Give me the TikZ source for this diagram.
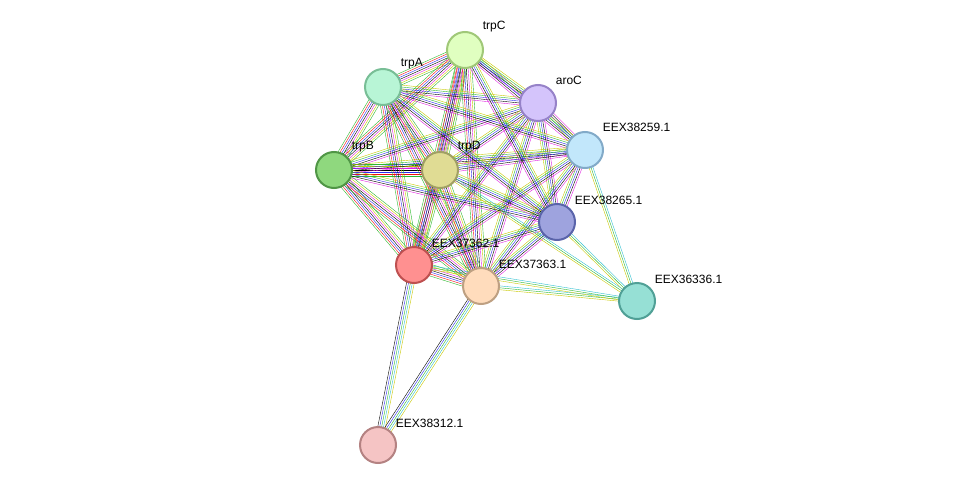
\documentclass[tikz,border=0pt]{standalone}
\usepackage{fontspec}
\setmainfont{Liberation Sans}
\usetikzlibrary{calc,backgrounds}
\definecolor{cgreen}{HTML}{2EB82E}
\definecolor{cblue}{HTML}{2B2BF0}
\definecolor{cred}{HTML}{F01010}
\definecolor{cmag}{HTML}{E020E0}
\definecolor{cyel}{HTML}{C8C800}
\definecolor{ccyan}{HTML}{30C0D0}
\newcommand\link[4][5]{%
  \foreach \c [count=\i] in {#4}{%
    \pgfmathsetmacro\o{(\i-(#1+1)/2)*1.9}
    \draw[\c] ($(#2)!\o pt!90:(#3)$) -- ($(#3)!\o pt!-90:(#2)$);
  }}
\begin{document}
\begin{tikzpicture}
	[x=1pt, y=-1pt, line width=0.9pt,
	prot/.style={circle, draw, line width=2pt, minimum size=36pt, inner sep=0pt},
	lbl/.style={anchor=south west, inner sep=1pt, xshift=3pt, yshift=3pt, font=\fontsize{12}{12}\selectfont}]
	
	\useasboundingbox (0,0) rectangle (975,490);
	
	\node[prot, fill={rgb,255:red,224;green,255;blue,192}, draw={rgb,255:red,160;green,200;blue,120}, label={[lbl]45:trpC}] (trpC) at (465,50) {};
	\node[prot, fill={rgb,255:red,184;green,245;blue,214}, draw={rgb,255:red,120;green,190;blue,150}, label={[lbl]45:trpA}] (trpA) at (383,87) {};
	\node[prot, fill={rgb,255:red,212;green,196;blue,251}, draw={rgb,255:red,150;green,130;blue,200}, label={[lbl]45:aroC}] (aroC) at (538,103) {};
	\node[prot, fill={rgb,255:red,194;green,231;blue,251}, draw={rgb,255:red,130;green,170;blue,200}, label={[lbl]45:EEX38259.1}] (e38259) at (585,150) {};
	\node[prot, fill={rgb,255:red,143;green,216;blue,126}, draw={rgb,255:red,80;green,150;blue,70}, label={[lbl]45:trpB}] (trpB) at (334,170) {};
	\node[prot, fill={rgb,255:red,224;green,220;blue,148}, draw={rgb,255:red,160;green,160;blue,100}, label={[lbl]45:trpD}] (trpD) at (440,170) {};
	\node[prot, fill={rgb,255:red,158;green,163;blue,222}, draw={rgb,255:red,90;green,100;blue,170}, label={[lbl]45:EEX38265.1}] (e38265) at (557,222) {};
	\node[prot, fill={rgb,255:red,255;green,144;blue,144}, draw={rgb,255:red,190;green,80;blue,80}, label={[lbl]45:EEX37362.1}] (e37362) at (414,265) {};
	\node[prot, fill={rgb,255:red,255;green,220;blue,188}, draw={rgb,255:red,190;green,160;blue,130}, label={[lbl]45:EEX37363.1}] (e37363) at (481,286) {};
	\node[prot, fill={rgb,255:red,150;green,224;blue,213}, draw={rgb,255:red,80;green,160;blue,150}, label={[lbl]45:EEX36336.1}] (e36336) at (637,301) {};
	\node[prot, fill={rgb,255:red,245;green,196;blue,196}, draw={rgb,255:red,180;green,130;blue,130}, label={[lbl]45:EEX38312.1}] (e38312) at (378,445) {};
	
	\begin{scope}[on background layer]
	% core of the tryptophan pathway
	\foreach \a/\b in {trpC/trpA, trpC/trpB, trpC/trpD, trpA/trpB, trpA/trpD, trpB/trpD,
	                   trpC/e37362, trpA/e37362, trpB/e37362, trpD/e37362,
	                   trpC/e37363, trpA/e37363, trpB/e37363, trpD/e37363, e37362/e37363}
	  {\link[7]{\a}{\b}{cgreen,cred,cblue,black,cmag,cyel,cgreen}}
	\foreach \a/\b in {aroC/trpC, aroC/trpA, aroC/trpB, aroC/trpD, aroC/e38259, aroC/e38265,
	                   aroC/e37362, aroC/e37363, e38259/trpC, e38259/trpA, e38259/trpB,
	                   e38259/trpD, e38259/e38265, e38259/e37362, e38259/e37363,
	                   e38265/trpC, e38265/trpA, e38265/trpB, e38265/trpD,
	                   e38265/e37362, e38265/e37363}
	  {\link[5]{\a}{\b}{cyel,cgreen,cblue,black,cmag}}
	\foreach \a/\b in {e36336/e38259, e36336/e38265, e36336/e37363, e36336/e37362, e36336/trpD}
	  {\link[3]{\a}{\b}{ccyan,cgreen,cyel}}
	\foreach \a/\b in {e38312/e37362, e38312/e37363}
	  {\link[5]{\a}{\b}{cyel,ccyan,cgreen,cblue,black}}
	\end{scope}
\end{tikzpicture}
\end{document}
